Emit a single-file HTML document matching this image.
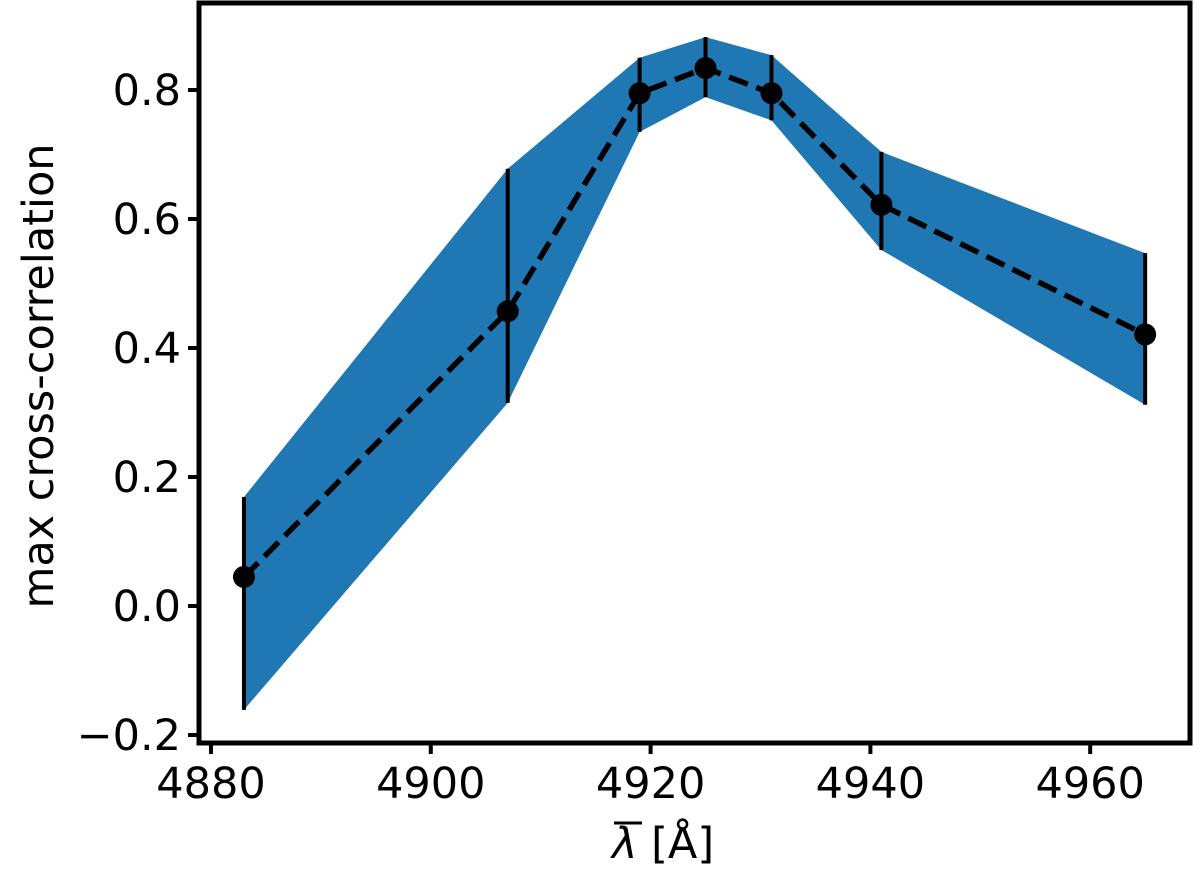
<!DOCTYPE html>
<html><head><meta charset="utf-8"><style>
body{margin:0;background:#fff;}
svg{display:block;font-family:"DejaVu Sans","Liberation Sans",sans-serif;}
</style></head><body>
<svg id="chart" width="1200" height="875" viewBox="0 0 1200 875">
<g id="plot"></g>
</svg>
<script>
const xs=[4883,4907,4919,4925,4931,4941,4965];
const ys=[0.045,0.457,0.795,0.834,0.795,0.622,0.421];
const upper=[0.169,0.678,0.850,0.882,0.854,0.704,0.547];
const lower=[-0.161,0.315,0.735,0.789,0.753,0.552,0.312];
const xTicks=[4880,4900,4920,4940,4960];
const yTicks=[-0.2,0.0,0.2,0.4,0.6,0.8];
const yTickLabels=["\u22120.2","0.0","0.2","0.4","0.6","0.8"];

const NS="http://www.w3.org/2000/svg";
const L=199,R=1190,T=3,B=743;
function sx(v){return 211+(v-4880)*10.99;}
function sy(v){return 606-v*645;}
const g=document.getElementById('plot');
function mk(tag,attrs,parent){const e=document.createElementNS(NS,tag);for(const k in attrs)e.setAttribute(k,attrs[k]);(parent||g).appendChild(e);return e;}

let pts=xs.map((x,i)=>sx(x)+','+sy(upper[i]));
for(let i=xs.length-1;i>=0;i--)pts.push(sx(xs[i])+','+sy(lower[i]));
const band=mk('polygon',{points:pts.join(' '),fill:'#1f77b4'});



xs.forEach((x,i)=>{
 const e=mk('line',{x1:sx(x),x2:sx(x),y1:sy(upper[i]),y2:sy(lower[i]),stroke:'#000','stroke-width':4});
 
 
});
const ln=mk('polyline',{points:xs.map((x,i)=>sx(x)+','+sy(ys[i])).join(' '),fill:'none',stroke:'#000','stroke-width':5.5,'stroke-dasharray':'20,9'});


xs.forEach((x,i)=>{
 const c=mk('circle',{cx:sx(x),cy:sy(ys[i]),r:11,fill:'#000'});
 
 
});
const fr=mk('rect',{x:L,y:T,width:R-L,height:B-T,fill:'none',stroke:'#000','stroke-width':5});


xTicks.forEach(v=>{
 const t=mk('line',{x1:sx(v),x2:sx(v),y1:B,y2:B+11,stroke:'#000','stroke-width':4});
 
 
 const tx=mk('text',{x:sx(v),y:B+55,'font-size':43,'text-anchor':'middle',fill:'#000'});
 tx.textContent=v;
 
 
});
yTicks.forEach((v,i)=>{
 const t=mk('line',{x1:L-11,x2:L,y1:sy(v),y2:sy(v),stroke:'#000','stroke-width':4});
 
 
 const tx=mk('text',{x:L-18,y:sy(v)+15,'font-size':43,'text-anchor':'end',fill:'#000'});
 tx.textContent=yTickLabels[i];
 
 
});
const yl=mk('text',{x:0,y:0,'font-size':43,'text-anchor':'middle',fill:'#000',transform:'translate(53,376) rotate(-90)'});
yl.textContent='max cross-correlation';


const xl=mk('text',{x:0,y:0,'font-size':43,fill:'#000'});
xl.innerHTML='<tspan font-style="italic">λ</tspan> [Å]';


xl.setAttribute('x',612);xl.setAttribute('y',858);
const ol=mk('line',{x1:614,x2:642,y1:823,y2:823,stroke:'#000','stroke-width':3});


</script>
</body></html>
